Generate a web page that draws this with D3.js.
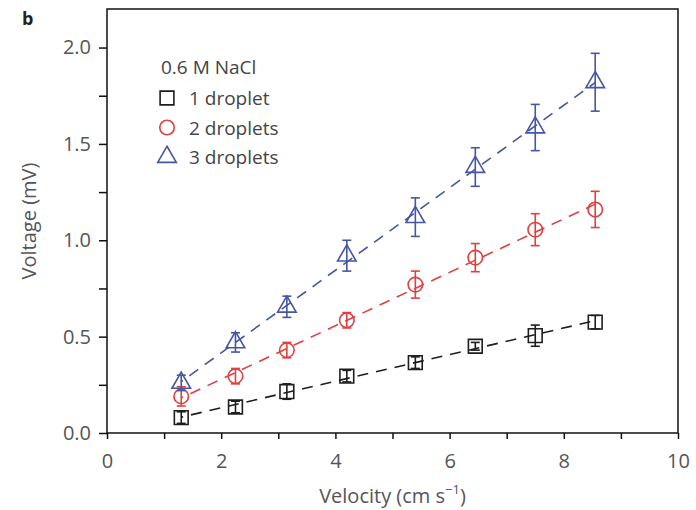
<!DOCTYPE html>
<html>
<head>
<meta charset="utf-8">
<script src="https://cdn.jsdelivr.net/npm/d3@7"></script>
<style>
  html, body { margin: 0; padding: 0; background: #fff; }
  svg { display: block; }
  text { font-family: "Open Sans", "Noto Sans", sans-serif; }
</style>
</head>
<body>
<svg id="chart" width="696" height="510"></svg>
<script>
// Velocity (cm s^-1) at which each measurement was taken
const velocity = [1.3, 2.25, 3.15, 4.2, 5.4, 6.45, 7.5, 8.55];

// Voltage (mV) and its error for each droplet count
const oneDroplet    = [0.08, 0.135, 0.215, 0.295, 0.365, 0.45, 0.505, 0.575];
const oneDropletErr = [0.03, 0.03, 0.04, 0.03, 0.03, 0.02, 0.055, 0.035];
const twoDroplets    = [0.19, 0.295, 0.43, 0.585, 0.77, 0.91, 1.055, 1.16];
const twoDropletsErr = [0.05, 0.04, 0.04, 0.04, 0.07, 0.073, 0.083, 0.094];
const threeDroplets    = [0.26, 0.47, 0.655, 0.92, 1.12, 1.38, 1.585, 1.82];
const threeDropletsErr = [0.04, 0.05, 0.055, 0.08, 0.10, 0.10, 0.12, 0.15];

const seriesNames = ["1 droplet", "2 droplets", "3 droplets"];
const legendTitle = "0.6 M NaCl";
const xTicks = [0, 2, 4, 6, 8, 10];
const yTicks = [0.0, 0.5, 1.0, 1.5, 2.0];

const series = [
  { name: seriesNames[0], y: oneDroplet,    err: oneDropletErr,    color: "#1e1e1e", shape: d3.symbolSquare,   size: 190 },
  { name: seriesNames[1], y: twoDroplets,   err: twoDropletsErr,   color: "#e0403f", shape: d3.symbolCircle,   size: 165 },
  { name: seriesNames[2], y: threeDroplets, err: threeDropletsErr, color: "#4656a3", shape: d3.symbolTriangle, size: 150 }
];

const svg = d3.select("#chart");
const plotLeft = 107, plotRight = 678, plotTop = 9, plotBottom = 433;

const x = d3.scaleLinear().domain([0, 10]).range([plotLeft, plotRight]);
const y = d3.scaleLinear().domain([0, 2.2]).range([plotBottom, plotTop]);

// frame
svg.append("rect")
  .attr("x", plotLeft).attr("y", plotTop)
  .attr("width", plotRight - plotLeft).attr("height", plotBottom - plotTop)
  .attr("fill", "none").attr("stroke", "#111").attr("stroke-width", 1.5);

// x axis: major labelled ticks plus unlabelled odd ticks
const xAxis = svg.append("g").attr("transform", `translate(0,${plotBottom})`)
  .call(d3.axisBottom(x).tickValues(d3.range(0, 11, 1)).tickSize(6)
    .tickFormat(d => xTicks.includes(d) ? d3.format("d")(d) : ""));
xAxis.select(".domain").remove();
xAxis.selectAll(".tick line").attr("stroke", "#111").attr("stroke-width", 1.5);
xAxis.selectAll(".tick text").attr("fill", "#555").attr("font-size", 20)
  .attr("y", 35).attr("dy", null);

// y axis: major labelled ticks plus quarter ticks
const yAxis = svg.append("g").attr("transform", `translate(${plotLeft},0)`)
  .call(d3.axisLeft(y).tickValues(d3.range(0, 2.01, 0.25)).tickSize(8)
    .tickFormat(d => yTicks.some(t => Math.abs(t - d) < 1e-9) ? d3.format(".1f")(d) : ""));
yAxis.select(".domain").remove();
yAxis.selectAll(".tick line").attr("stroke", "#111").attr("stroke-width", 1.5);
yAxis.selectAll(".tick text").attr("fill", "#555").attr("font-size", 20).attr("x", -16);

// axis titles
const xTitle = svg.append("text")
  .attr("x", (plotLeft + plotRight) / 2).attr("y", 503)
  .attr("text-anchor", "middle").attr("font-size", 20).attr("fill", "#555");
xTitle.append("tspan").text("Velocity (cm s");
xTitle.append("tspan").attr("baseline-shift", "super").attr("font-size", 13).text("−1");
xTitle.append("tspan").text(")");

svg.append("text")
  .attr("transform", `translate(36,${(plotTop + plotBottom) / 2}) rotate(-90)`)
  .attr("text-anchor", "middle").attr("font-size", 20).attr("fill", "#555")
  .text("Voltage (mV)");

// panel letter
svg.append("text").attr("x", 22).attr("y", 25)
  .attr("font-size", 18).attr("font-weight", "bold").attr("fill", "#222")
  .text("b");

// least-squares line for each series, spanning the measured velocities
function fit(xs, ys) {
  const mx = d3.mean(xs), my = d3.mean(ys);
  const b = d3.sum(xs, (v, i) => (v - mx) * (ys[i] - my)) / d3.sum(xs, v => (v - mx) ** 2);
  return { slope: b, intercept: my - b * mx };
}

const plot = svg.append("g");

series.forEach(s => {
  const f = fit(velocity, s.y);
  const x0 = d3.min(velocity), x1 = d3.max(velocity);
  plot.append("line")
    .attr("x1", x(x0)).attr("y1", y(f.intercept + f.slope * x0))
    .attr("x2", x(x1)).attr("y2", y(f.intercept + f.slope * x1))
    .attr("stroke", s.color).attr("stroke-width", 1.6)
    .attr("stroke-dasharray", "11,8").attr("stroke-dashoffset", -10);
});

series.forEach(s => {
  const g = plot.append("g").attr("stroke", s.color).attr("fill", "none").attr("stroke-width", 1.6);
  velocity.forEach((v, i) => {
    const cx = x(v), lo = y(s.y[i] - s.err[i]), hi = y(s.y[i] + s.err[i]);
    g.append("line").attr("x1", cx).attr("x2", cx).attr("y1", lo).attr("y2", hi);
    g.append("line").attr("x1", cx - 4.5).attr("x2", cx + 4.5).attr("y1", lo).attr("y2", lo);
    g.append("line").attr("x1", cx - 4.5).attr("x2", cx + 4.5).attr("y1", hi).attr("y2", hi);
    g.append("path")
      .attr("transform", `translate(${cx},${y(s.y[i])})`)
      .attr("d", d3.symbol().type(s.shape).size(s.size)());
  });
});

// legend
const legend = svg.append("g");
legend.append("text").attr("x", 161).attr("y", 74)
  .attr("font-size", 19).attr("fill", "#444").text(legendTitle);
series.forEach((s, i) => {
  const yy = 98 + i * 29.5;
  legend.append("path")
    .attr("transform", `translate(167,${yy})`)
    .attr("d", d3.symbol().type(s.shape).size(s.size)())
    .attr("fill", "none").attr("stroke", s.color).attr("stroke-width", 1.6);
  legend.append("text").attr("x", 189).attr("y", yy + 7)
    .attr("font-size", 19).attr("fill", "#444").text(s.name);
});
</script>
</body>
</html>
